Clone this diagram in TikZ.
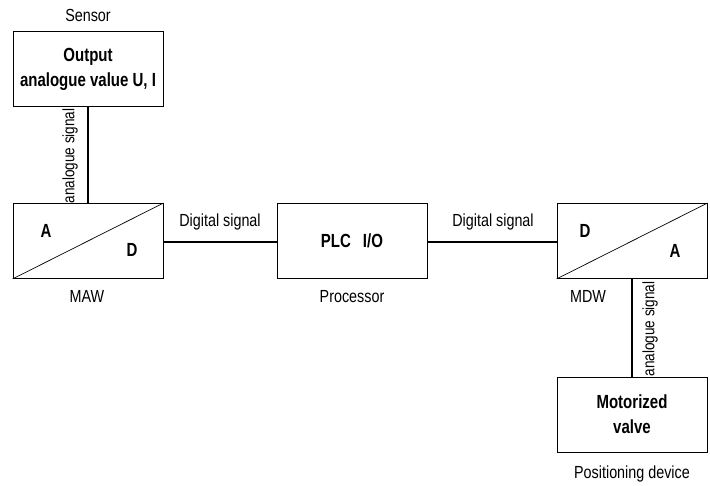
\documentclass[tikz,border=0pt]{standalone}
\usepackage{fontspec}
\setmainfont{Liberation Sans}[FakeStretch=0.82]
\newfontfamily\boldnarrow{Liberation Sans Bold}[FakeStretch=0.79]
\begin{document}
\begin{tikzpicture}[x=1pt,y=-1pt,
  box/.style={draw,line width=0.9pt,minimum width=150pt,minimum height=75pt,inner sep=0pt},
  conn/.style={line width=2pt},
  lbl/.style={font=\fontsize{17.5}{20}\selectfont,inner sep=0pt,anchor=base},
  vlbl/.style={font=\fontsize{16.5}{20}\selectfont,inner sep=0pt,rotate=90,anchor=center},
  bl/.style={font=\fontsize{19}{22}\boldnarrow,inner sep=0pt,anchor=base}]
\useasboundingbox (0,0) rectangle (710,486);
% boxes
\node[box] (sensor) at (88,68.5) {};
\node[box] (maw) at (88,241) {};
\node[box] (plc) at (352,241) {};
\node[box] (mdw) at (632,241) {};
\node[box] (valve) at (632,415) {};
% diagonals
\draw[line width=0.7pt] (maw.south west) -- (maw.north east);
\draw[line width=0.7pt] (mdw.south west) -- (mdw.north east);
% box texts
\node[bl] (outtxt) at (88,62) {Output};
\node[bl] (outtxt2) at (88,87) {analogue value U, I};
\node[bl] (valtxt) at (632,409) {Motorized};
\node[bl] (valtxt2) at (632,434) {valve};
\node[bl] (plctxt) at (352,248) {PLC\hspace{12pt}I/O};
\node[bl] (ma) at (46,238) {A};
\node[bl] (md) at (132,257) {D};
\node[bl] (dd) at (585,238) {D};
\node[bl] (da) at (675,258) {A};
% connectors
\draw[conn] (sensor.south) -- (maw.north);
\draw[conn] (maw.east |- 0,242) -- (plc.west |- 0,242);
\draw[conn] (plc.east |- 0,242) -- (mdw.west |- 0,242);
\draw[conn] (mdw.south) -- (valve.north);
% labels
\node[lbl] (l1) at (88,22) {Sensor};
\node[lbl] (l2) at (87,303) {MAW};
\node[lbl] (l3) at (352,303) {Processor};
\node[lbl] (l4) at (588,303) {MDW};
\node[lbl] (l5) at (632,478) {Positioning device};
\node[lbl] (l6) at (220,227) {Digital signal};
\node[lbl] (l7) at (493,227) {Digital signal};
\node[vlbl] (l8) at (70,156) {analogue signal};
\node[vlbl] (l9) at (650,329) {analogue signal};
\end{tikzpicture}
\end{document}
